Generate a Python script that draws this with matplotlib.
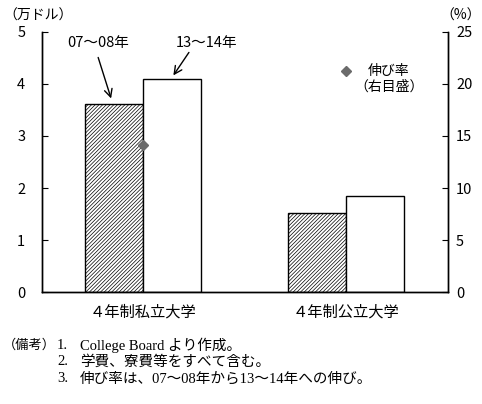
import matplotlib
matplotlib.use("Agg")
import matplotlib.pyplot as plt
import numpy as np

plt.rcParams["font.family"] = ["Noto Sans CJK JP", "DejaVu Sans"]
plt.rcParams["hatch.linewidth"] = 0.5
plt.rcParams["hatch.color"] = "#666666"

# data
categories = ["４年制私立大学", "４年制公立大学"]
cost_0708 = [3.62, 1.52]   # 万ドル
cost_1314 = [4.10, 1.85]   # 万ドル
growth = [14.1, 21.2]      # %, right axis
series_labels = ["07～08年", "13～14年"]
note_nums = ["1.", "2.", "3."]
notes = [
    "College Board より作成。",
    "学費、寮費等をすべて含む。",
    "伸び率は、07～08年から13～14年への伸び。",
]

fig = plt.figure(figsize=(4.82, 4.04), dpi=100)
ax = fig.add_axes([0.087, 0.277, 0.842, 0.644])
ax2 = ax.twinx()

x = np.arange(len(categories))
width = 0.286
ax.bar(x - width / 2, cost_0708, width, facecolor="white", edgecolor="black",
       hatch="/" * 9, linewidth=1.0, zorder=2)
ax.bar(x + width / 2, cost_1314, width, facecolor="white", edgecolor="black",
       linewidth=1.0, zorder=2)

ax2.plot(x, growth, linestyle="none", marker="D", markersize=5,
         color="#6b6b6b", zorder=3)

ax.set_xlim(-0.5, 1.5)
ax.set_ylim(0, 5)
ax2.set_ylim(0, 25)
ax.set_yticks(range(0, 6))
ax2.set_yticks(range(0, 26, 5))
ax.set_xticks(x)
ax.set_xticklabels(categories, fontsize=11)
ax.tick_params(axis="x", length=0, pad=8)
ax.tick_params(axis="y", direction="in", length=4, labelsize=10.5, pad=12)
ax2.tick_params(axis="y", direction="in", length=4, labelsize=10.5, pad=6)

for a in (ax, ax2):
    a.spines["top"].set_visible(False)
    for s in a.spines.values():
        s.set_linewidth(1.0)

# unit labels
fig.text(0.008, 0.962, "（万ドル）", fontsize=10, ha="left", va="center")
fig.text(0.998, 0.962, "（%）", fontsize=10, ha="right", va="center")

# series annotations with arrows
ax.text(-0.224, 4.79, series_labels[0], fontsize=10.5, ha="center", va="center")
ax.annotate("", xy=(-0.155, 3.67), xytext=(-0.227, 4.56),
            arrowprops=dict(arrowstyle="->", lw=1.0, color="black",
                            mutation_scale=14))
ax.text(0.313, 4.79, series_labels[1], fontsize=10.5, ha="center", va="center")
ax.annotate("", xy=(0.140, 4.12), xytext=(0.232, 4.65),
            arrowprops=dict(arrowstyle="->", lw=1.0, color="black",
                            mutation_scale=14))

# growth label next to the public-university marker
ax2.text(1.21, 20.5, "伸び率\n（右目盛）", fontsize=10, ha="center", va="center",
         linespacing=1.1)

# footnotes
serif = ["Liberation Serif", "Noto Sans CJK JP"]
fig.text(0.006, 0.146, "（備考）", fontsize=9.5, ha="left", va="center")
for i, (num, note) in enumerate(zip(note_nums, notes)):
    y = 0.146 - i * 0.042
    fig.text(0.118, y, num, fontsize=10.5, ha="left", va="center", family=serif)
    fig.text(0.166, y, note, fontsize=10.5, ha="left", va="center", family=serif)

fig.savefig("out.png", dpi=100)
